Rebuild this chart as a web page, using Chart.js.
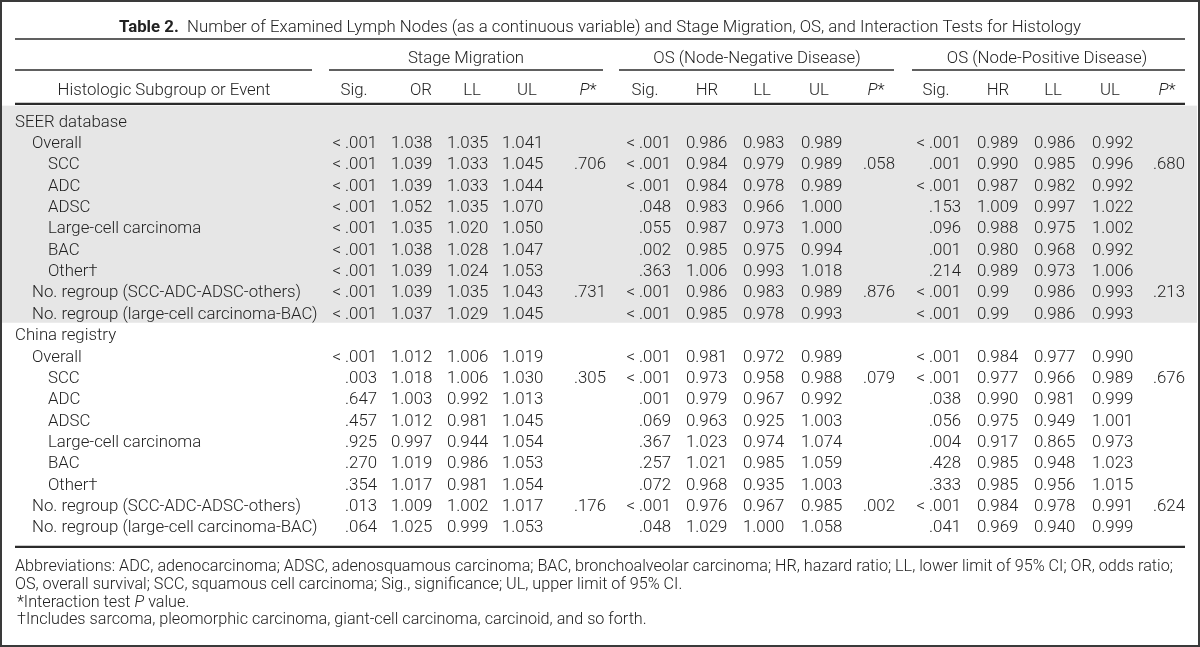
<!DOCTYPE html>
<html>
<head>
<meta charset="utf-8">
<script src="https://cdn.jsdelivr.net/npm/chart.js@4/dist/chart.umd.min.js"></script>
<style>
  html, body { margin: 0; padding: 0; background: #fff; }
  #wrap { width: 1200px; height: 647px; position: relative; }
</style>
</head>
<body>
<div id="wrap"><canvas id="tableChart"></canvas></div>
<script>
// rows of the table
const rowLabels = [
    'SEER database', 'Overall', 'SCC', 'ADC', 'ADSC', 'Large-cell carcinoma', 'BAC', 'Other\u2020',
    'No. regroup (SCC-ADC-ADSC-others)', 'No. regroup (large-cell carcinoma-BAC)',
    'China registry', 'Overall', 'SCC', 'ADC', 'ADSC', 'Large-cell carcinoma', 'BAC', 'Other\u2020',
    'No. regroup (SCC-ADC-ADSC-others)', 'No. regroup (large-cell carcinoma-BAC)'
];
const rowLevels = [0, 1, 2, 2, 2, 2, 2, 2, 1, 1, 0, 1, 2, 2, 2, 2, 2, 2, 1, 1];

const groupTitles = ['Stage Migration', 'OS (Node-Negative Disease)', 'OS (Node-Positive Disease)'];
const stageHeaders = ['Sig.', 'OR', 'LL', 'UL', 'P'];
const osHeaders = ['Sig.', 'HR', 'LL', 'UL', 'P'];
const firstHeader = 'Histologic Subgroup or Event';

const L = '< .001';
// Stage migration
const stageSig = [null, L, L, L, L, L, L, L, L, L, null, L, '.003', '.647', '.457', '.925', '.270', '.354', '.013', '.064'];
const stageOR = [null, '1.038', '1.039', '1.039', '1.052', '1.035', '1.038', '1.039', '1.039', '1.037',
    null, '1.012', '1.018', '1.003', '1.012', '0.997', '1.019', '1.017', '1.009', '1.025'];
const stageLL = [null, '1.035', '1.033', '1.033', '1.035', '1.020', '1.028', '1.024', '1.035', '1.029',
    null, '1.006', '1.006', '0.992', '0.981', '0.944', '0.986', '0.981', '1.002', '0.999'];
const stageUL = [null, '1.041', '1.045', '1.044', '1.070', '1.050', '1.047', '1.053', '1.043', '1.045',
    null, '1.019', '1.030', '1.013', '1.045', '1.054', '1.053', '1.054', '1.017', '1.053'];
const stageP = [null, null, '.706', null, null, null, null, null, '.731', null,
    null, null, '.305', null, null, null, null, null, '.176', null];

// OS, node-negative disease
const negSig = [null, L, L, L, '.048', '.055', '.002', '.363', L, L, null, L, L, '.001', '.069', '.367', '.257', '.072', L, '.048'];
const negHR = [null, '0.986', '0.984', '0.984', '0.983', '0.987', '0.985', '1.006', '0.986', '0.985',
    null, '0.981', '0.973', '0.979', '0.963', '1.023', '1.021', '0.968', '0.976', '1.029'];
const negLL = [null, '0.983', '0.979', '0.978', '0.966', '0.973', '0.975', '0.993', '0.983', '0.978',
    null, '0.972', '0.958', '0.967', '0.925', '0.974', '0.985', '0.935', '0.967', '1.000'];
const negUL = [null, '0.989', '0.989', '0.989', '1.000', '1.000', '0.994', '1.018', '0.989', '0.993',
    null, '0.989', '0.988', '0.992', '1.003', '1.074', '1.059', '1.003', '0.985', '1.058'];
const negP = [null, null, '.058', null, null, null, null, null, '.876', null,
    null, null, '.079', null, null, null, null, null, '.002', null];

// OS, node-positive disease
const posSig = [null, L, '.001', L, '.153', '.096', '.001', '.214', L, L, null, L, L, '.038', '.056', '.004', '.428', '.333', L, '.041'];
const posHR = [null, '0.989', '0.990', '0.987', '1.009', '0.988', '0.980', '0.989', '0.99', '0.99',
    null, '0.984', '0.977', '0.990', '0.975', '0.917', '0.985', '0.985', '0.984', '0.969'];
const posLL = [null, '0.986', '0.985', '0.982', '0.997', '0.975', '0.968', '0.973', '0.986', '0.986',
    null, '0.977', '0.966', '0.981', '0.949', '0.865', '0.948', '0.956', '0.978', '0.940'];
const posUL = [null, '0.992', '0.996', '0.992', '1.022', '1.002', '0.992', '1.006', '0.993', '0.993',
    null, '0.990', '0.989', '0.999', '1.001', '0.973', '1.023', '1.015', '0.991', '0.999'];
const posP = [null, null, '.680', null, null, null, null, null, '.213', null,
    null, null, '.676', null, null, null, null, null, '.624', null];

const titleBold = 'Table 2.';
const titleText = 'Number of Examined Lymph Nodes (as a continuous variable) and Stage Migration, OS, and Interaction Tests for Histology';
const footnotes = [
    'Abbreviations: ADC, adenocarcinoma; ADSC, adenosquamous carcinoma; BAC, bronchoalveolar carcinoma; HR, hazard ratio; LL, lower limit of 95% CI; OR, odds ratio;',
    'OS, overall survival; SCC, squamous cell carcinoma; Sig., significance; UL, upper limit of 95% CI.'
];

// ---- layout (x in table units 0..1200, y in row units) ----
const W = 1200, H = 647;
const ROW0 = 121, ROW_H = 21.35;
const levelX = [15, 32, 48];
const groupCols = [
    { title: 466, line: [329, 603], sig: 377, cols: [391, 447, 502, 574], heads: [354, 421, 472, 527, 588] },
    { title: 757, line: [619, 894], sig: 671, cols: [686, 743, 801, 863], heads: [645, 707, 762, 819, 876] },
    { title: 1047, line: [912, 1185], sig: 961, cols: [977, 1034, 1092, 1153], heads: [936, 998, 1053, 1110, 1167] }
];
const Y = { title: -4.45, titleLine: -3.84, group: -3.0, groupLine: -2.39, head: -1.5, headLine: -0.8,
    bandTop: -0.72, bandBottom: 9.45, bottomLine: 19.95, notes: [20.8, 21.64, 22.48, 23.28] };

const INK = '#222';
const FS = 16.8, FS_NOTE = 16.2, TEXT_DY = 1.5;
const FAMILY = 'Roboto, "Liberation Sans", Arial, sans-serif';
const font = (size, weight, style) => (style || 'normal') + ' ' + (weight || '300') + ' ' + size + 'px ' + FAMILY;

// build datasets: one per table column, points on (column anchor, row index)
function cellSet(values, x, align) {
    const pts = [], texts = [];
    values.forEach((v, r) => { if (v !== null) { pts.push({ x: x, y: r }); texts.push(v); } });
    return { data: pts, texts: texts, align: align, pointRadius: 0, showLine: false };
}
const datasets = [];
rowLevels.forEach((lv, r) => {
    datasets.push({ data: [{ x: levelX[lv], y: r }], texts: [rowLabels[r]], align: 'left', pointRadius: 0 });
});
const groups = [
    [stageSig, stageOR, stageLL, stageUL, stageP],
    [negSig, negHR, negLL, negUL, negP],
    [posSig, posHR, posLL, posUL, posP]
];
groups.forEach((g, gi) => {
    const c = groupCols[gi];
    datasets.push(cellSet(g[0], c.sig, 'right'));
    for (let k = 1; k < 5; k++) datasets.push(cellSet(g[k], c.cols[k - 1], 'left'));
});

const tablePlugin = {
    id: 'tableDecor',
    beforeDatasetsDraw(chart) {
        const { ctx, scales: { x, y } } = chart;
        ctx.save();
        // shaded SEER block
        ctx.fillStyle = '#e6e6e6';
        const t = y.getPixelForValue(Y.bandTop), b = y.getPixelForValue(Y.bandBottom);
        ctx.fillRect(x.getPixelForValue(2), t, x.getPixelForValue(1197) - x.getPixelForValue(2), b - t);
        // rules
        ctx.strokeStyle = '#2b2b2b';
        const rule = (x0, x1, v, w) => {
            ctx.lineWidth = w;
            ctx.beginPath();
            ctx.moveTo(x.getPixelForValue(x0), y.getPixelForValue(v));
            ctx.lineTo(x.getPixelForValue(x1), y.getPixelForValue(v));
            ctx.stroke();
        };
        rule(15, 1185, Y.titleLine, 1.6);
        rule(15, 312, Y.groupLine, 1.4);
        groupCols.forEach(c => rule(c.line[0], c.line[1], Y.groupLine, 1.4));
        rule(15, 1185, Y.headLine, 2.2);
        rule(15, 1185, Y.bottomLine, 2.2);
        // outer frame
        ctx.lineWidth = 2;
        ctx.strokeStyle = '#3a3a3a';
        ctx.strokeRect(1, 1, W - 2, H - 2);
        ctx.restore();
    },
    afterDatasetsDraw(chart) {
        const { ctx, scales: { x, y } } = chart;
        const py = v => y.getPixelForValue(v) + TEXT_DY;
        ctx.save();
        ctx.fillStyle = INK;
        ctx.textBaseline = 'middle';
        // cells
        ctx.font = font(FS);
        chart.data.datasets.forEach((ds, i) => {
            const meta = chart.getDatasetMeta(i);
            ctx.textAlign = ds.align;
            meta.data.forEach((pt, j) => ctx.fillText(ds.texts[j], pt.x, pt.y + TEXT_DY));
        });
        // title
        ctx.textAlign = 'left';
        ctx.font = font(FS, '700');
        const wb = ctx.measureText(titleBold + '  ').width;
        ctx.font = font(FS);
        const wt = ctx.measureText(titleText).width;
        const tx = x.getPixelForValue(600) - (wb + wt) / 2;
        const ty = py(Y.title);
        ctx.font = font(FS, '700');
        ctx.fillText(titleBold, tx, ty);
        ctx.font = font(FS);
        ctx.fillText(titleText, tx + wb, ty);
        // group titles and column headers
        ctx.textAlign = 'center';
        ctx.fillText(firstHeader, x.getPixelForValue(164), py(Y.head));
        groupCols.forEach((c, gi) => {
            ctx.font = font(FS);
            ctx.fillText(groupTitles[gi], x.getPixelForValue(c.title), py(Y.group));
            const heads = gi === 0 ? stageHeaders : osHeaders;
            heads.forEach((h, k) => {
                const hx = x.getPixelForValue(c.heads[k]), hy = py(Y.head);
                if (h === 'P') {
                    ctx.font = font(FS, '300', 'italic');
                    const pw = ctx.measureText('P').width;
                    ctx.font = font(FS);
                    const sw = ctx.measureText('*').width;
                    ctx.textAlign = 'left';
                    ctx.font = font(FS, '300', 'italic');
                    ctx.fillText('P', hx - (pw + sw) / 2, hy);
                    ctx.font = font(FS);
                    ctx.fillText('*', hx - (pw + sw) / 2 + pw, hy);
                    ctx.textAlign = 'center';
                } else {
                    ctx.font = font(FS);
                    ctx.fillText(h, hx, hy);
                }
            });
        });
        // footnotes
        ctx.textAlign = 'left';
        ctx.font = font(FS_NOTE);
        ctx.fillText(footnotes[0], x.getPixelForValue(15), py(Y.notes[0]));
        ctx.fillText(footnotes[1], x.getPixelForValue(15), py(Y.notes[1]));
        let fx = x.getPixelForValue(17);
        const fy = py(Y.notes[2]);
        ctx.fillText('*Interaction test ', fx, fy);
        fx += ctx.measureText('*Interaction test ').width;
        ctx.font = font(FS_NOTE, '300', 'italic');
        ctx.fillText('P', fx, fy);
        fx += ctx.measureText('P').width;
        ctx.font = font(FS_NOTE);
        ctx.fillText(' value.', fx, fy);
        ctx.fillText('\u2020Includes sarcoma, pleomorphic carcinoma, giant-cell carcinoma, carcinoid, and so forth.',
            x.getPixelForValue(17), py(Y.notes[3]));
        ctx.restore();
    }
};

new Chart(document.getElementById('tableChart').getContext('2d'), {
    type: 'scatter',
    data: { datasets: datasets },
    options: {
        responsive: true,
        maintainAspectRatio: false,
        animation: false,
        layout: { padding: 0 },
        scales: {
            x: { type: 'linear', display: false, min: 0, max: W },
            y: { type: 'linear', display: false, reverse: true, min: -ROW0 / ROW_H, max: (H - ROW0) / ROW_H }
        },
        plugins: {
            legend: { display: false },
            tooltip: { enabled: false }
        }
    },
    plugins: [tablePlugin]
});
</script>
</body>
</html>
